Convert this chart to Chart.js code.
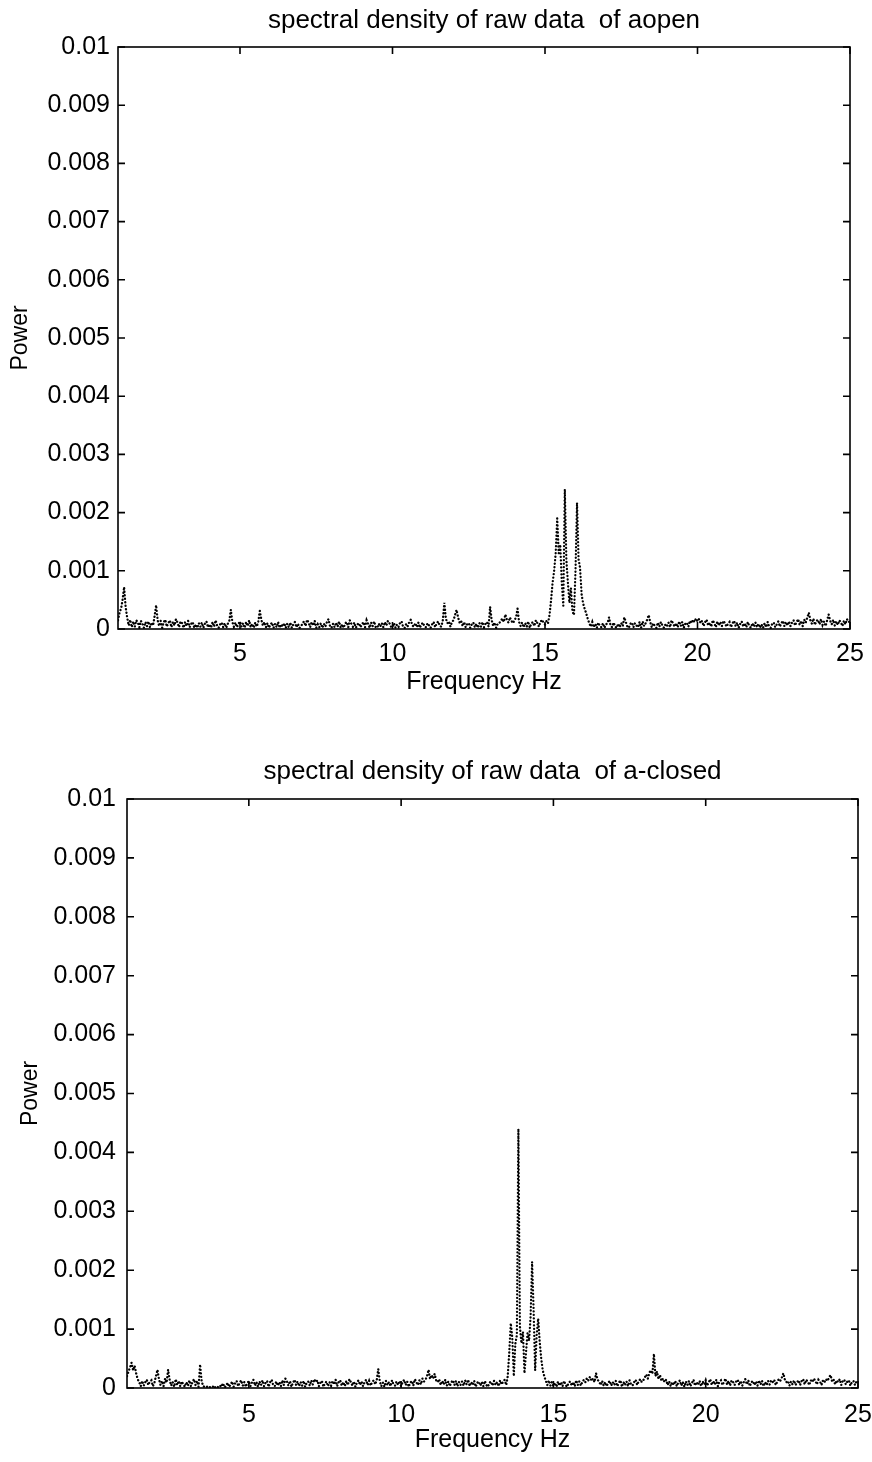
<!DOCTYPE html>
<html>
<head>
<meta charset="utf-8">
<script src="https://cdn.jsdelivr.net/npm/chart.js@4.4.0/dist/chart.umd.min.js"></script>
<style>
  html, body { margin: 0; padding: 0; background: #fff; }
  .panel { position: absolute; left: 0; width: 872px; height: 731px; }
</style>
</head>
<body>
<div class="panel" style="top:0"><canvas id="chartOpen" width="872" height="731"></canvas></div>
<div class="panel" style="top:731px"><canvas id="chartClosed" width="872" height="731"></canvas></div>
<script>
// spectra, one value every 0.05 Hz from 1 to 25 Hz, in units of 1e-4
// (one row per Hz)
const powerOpen = [
  1.5, 2.8, 3.5, 5.0, 7.2, 3.8, 2.0, 0.6, 1.6, 0.3, 1.3, 0.4, 1.5, 1.1, 0.3, 1.4, 0.9, 0.2, 1.2, 0.5,
  1.3, 0.3, 1.1, 0.6, 2.2, 4.1, 1.5, 0.5, 1.4, 0.2, 1.2, 1.6, 0.4, 1.0, 1.5, 0.3, 1.2, 0.6, 1.7, 1.1,
  0.3, 1.3, 1.0, 0.2, 1.2, 0.5, 1.4, 0.3, 0.9, 1.2, 0.2, 0.8, 0.2, 1.0, 0.4, 1.1, 0.2, 0.9, 1.3, 0.3,
  0.8, 0.2, 1.2, 0.4, 1.5, 0.6, 0.2, 0.8, 1.1, 0.3, 1.0, 0.2, 0.9, 1.4, 3.3, 1.2, 0.4, 1.1, 0.3, 0.9,
  1.3, 0.4, 1.0, 0.2, 1.2, 0.5, 1.5, 0.3, 0.9, 0.2, 1.1, 0.4, 1.3, 3.1, 1.6, 0.6, 1.2, 0.3, 1.0, 0.2,
  0.8, 1.1, 0.2, 0.9, 0.3, 1.2, 0.2, 0.8, 0.4, 1.0, 0.2, 0.9, 0.3, 1.1, 0.2, 0.8, 1.2, 0.3, 0.9, 0.2,
  0.4, 1.0, 1.3, 0.5, 1.6, 1.1, 0.3, 1.2, 0.6, 1.4, 0.2, 0.8, 0.3, 1.0, 0.2, 0.9, 0.4, 1.2, 1.7, 0.5,
  0.2, 0.9, 0.3, 1.1, 0.4, 1.3, 0.2, 0.8, 0.2, 1.0, 1.2, 0.3, 1.5, 0.9, 0.4, 1.1, 0.2, 0.8, 1.0, 0.3,
  0.8, 1.2, 0.3, 1.5, 0.9, 0.2, 1.1, 0.5, 1.3, 0.3, 0.2, 0.9, 0.4, 1.0, 0.3, 1.2, 0.6, 1.4, 1.0, 0.4,
  0.3, 1.0, 0.2, 0.8, 0.4, 1.1, 1.3, 0.3, 0.2, 0.9, 0.5, 1.2, 1.6, 0.6, 0.4, 1.0, 0.3, 1.1, 0.2, 0.8,
  1.1, 0.4, 0.3, 1.0, 0.6, 0.2, 0.8, 1.2, 0.3, 1.0, 1.3, 0.5, 0.4, 1.5, 4.5, 1.8, 1.0, 1.3, 0.4, 1.2,
  1.5, 2.4, 3.3, 2.0, 1.1, 1.4, 0.5, 1.2, 0.3, 0.9, 1.0, 0.2, 0.8, 1.1, 0.3, 0.9, 0.2, 1.0, 0.4, 1.2,
  0.3, 0.9, 1.2, 0.4, 3.8, 1.6, 0.5, 1.1, 0.2, 0.9, 1.0, 1.4, 1.8, 1.2, 2.5, 1.6, 1.1, 2.0, 1.4, 1.0,
  1.5, 2.0, 3.5, 1.2, 0.5, 1.1, 0.3, 1.0, 0.4, 1.3, 0.2, 0.9, 1.2, 0.5, 1.5, 1.0, 0.4, 1.2, 1.6, 1.1,
  0.8, 1.4, 1.0, 2.5, 5.0, 8.0, 10.0, 13.0, 19.0, 13.0, 14.5, 8.0, 4.0, 24.0, 12.0, 8.0, 4.5, 7.0, 3.0, 2.4,
  10.0, 21.7, 12.0, 10.5, 6.0, 4.4, 3.5, 2.7, 1.8, 1.0, 0.4, 1.2, 0.3, 0.9, 0.2, 1.1, 0.5, 0.3, 1.0, 0.2,
  0.8, 1.0, 2.0, 0.6, 0.3, 1.1, 0.4, 0.2, 0.9, 0.3, 1.0, 0.5, 2.0, 1.2, 0.4, 0.2, 0.9, 1.1, 0.3, 1.0,
  0.6, 0.3, 1.2, 0.2, 1.3, 0.5, 1.0, 1.6, 2.4, 1.2, 0.3, 1.0, 0.5, 0.2, 1.1, 0.4, 1.2, 0.6, 0.2, 0.8,
  0.5, 1.1, 0.3, 1.5, 0.9, 0.4, 1.0, 0.3, 1.3, 0.5, 1.2, 0.2, 0.9, 1.1, 0.4, 1.4, 1.0, 1.6, 1.2, 1.8,
  1.3, 1.7, 1.0, 1.4, 0.5, 1.2, 1.6, 0.6, 1.1, 0.4, 1.5, 1.0, 0.3, 1.3, 0.6, 1.2, 0.5, 1.4, 1.0, 0.4,
  0.9, 1.2, 0.3, 1.0, 1.4, 0.5, 1.1, 0.2, 0.9, 1.3, 0.4, 1.0, 0.3, 1.2, 0.5, 0.2, 1.0, 0.4, 1.1, 0.3,
  0.9, 0.2, 0.8, 0.2, 1.0, 0.3, 1.2, 0.4, 0.2, 0.9, 1.1, 0.3, 0.8, 1.3, 0.4, 1.0, 1.4, 0.5, 1.2, 0.6,
  1.3, 0.5, 1.1, 1.5, 0.6, 1.2, 1.7, 0.7, 1.4, 0.5, 1.6, 1.1, 2.0, 2.8, 1.5, 0.9, 1.8, 0.7, 1.4, 1.6,
  0.8, 1.7, 0.7, 1.3, 0.5, 1.5, 2.5, 1.4, 0.8, 1.6, 0.6, 1.3, 0.7, 1.5, 1.2, 0.5, 1.4, 0.8, 1.7, 1.2,
  1.3
]
const powerClosed = [
  2.0, 2.8, 3.5, 4.3, 3.0, 3.8, 2.5, 1.5, 1.0, 0.3, 1.2, 0.4, 1.0, 1.4, 0.5, 1.1, 1.3, 0.3, 0.9, 2.0,
  3.1, 1.5, 0.5, 1.2, 0.3, 1.6, 0.9, 3.1, 1.4, 0.4, 1.0, 0.2, 1.5, 0.5, 1.2, 0.3, 1.1, 0.6, 0.2, 1.0,
  0.4, 1.3, 0.3, 1.0, 1.5, 0.5, 1.2, 0.2, 4.0, 1.2, 0.3, 0.2, 0.1, 0.3, 0.1, 0.2, 0.1, 0.4, 0.1, 0.3,
  0.1, 0.4, 0.2, 0.8, 0.1, 0.3, 0.9, 0.2, 0.5, 1.1, 0.2, 0.8, 1.2, 0.3, 0.9, 1.3, 0.4, 1.0, 0.2, 0.8,
  1.2, 0.3, 0.9, 1.4, 0.4, 1.0, 0.2, 1.1, 0.5, 1.3, 0.3, 0.9, 1.2, 0.2, 1.0, 1.4, 0.5, 0.3, 1.1, 0.4,
  1.0, 0.3, 1.3, 0.5, 1.6, 1.1, 0.4, 1.2, 0.2, 0.9, 1.4, 0.5, 1.1, 0.3, 1.0, 0.4, 1.2, 0.2, 0.9, 1.1,
  0.4, 1.3, 0.6, 1.5, 1.0, 1.3, 0.3, 0.9, 1.2, 0.2, 0.8, 1.1, 0.3, 1.0, 0.4, 1.2, 0.6, 1.4, 0.3, 1.0,
  1.3, 0.4, 1.0, 0.3, 1.2, 0.5, 1.5, 1.0, 0.4, 1.1, 0.2, 0.9, 1.3, 0.5, 1.1, 0.3, 1.0, 1.4, 0.5, 1.2,
  0.4, 1.0, 1.3, 0.6, 1.4, 3.2, 1.1, 0.3, 0.9, 0.2, 1.2, 0.5, 1.0, 0.3, 1.3, 0.6, 0.4, 1.1, 0.5, 1.2,
  0.3, 1.0, 1.4, 0.5, 1.1, 0.2, 0.9, 1.2, 0.4, 1.5, 1.0, 0.5, 1.3, 0.6, 1.6, 1.1, 1.4, 2.0, 3.1, 1.5,
  2.2, 1.6, 2.4, 1.3, 1.0, 1.5, 0.5, 1.2, 0.6, 1.4, 0.4, 1.1, 0.3, 1.0, 1.3, 0.5, 1.2, 0.3, 1.0, 0.5,
  1.1, 0.4, 1.3, 0.6, 1.4, 0.3, 1.0, 0.5, 1.2, 0.2, 0.9, 1.1, 0.4, 1.0, 0.3, 1.2, 0.5, 0.2, 0.9, 1.1,
  0.4, 1.2, 0.5, 1.0, 0.3, 1.3, 0.6, 1.1, 1.4, 0.5, 2.0, 6.0, 11.0, 8.5, 2.0, 7.5, 9.0, 44.0, 10.4, 7.6,
  9.5, 2.5, 6.0, 9.3, 8.0, 12.0, 21.4, 13.2, 3.0, 9.0, 11.8, 7.8, 5.0, 3.0, 2.0, 1.2, 0.5, 1.3, 0.4, 1.0,
  0.3, 0.9, 0.2, 1.1, 0.4, 1.0, 0.3, 1.2, 0.5, 0.2, 0.9, 1.1, 0.4, 1.0, 0.3, 1.3, 0.5, 1.1, 0.4, 1.0,
  1.4, 1.0, 1.7, 1.3, 1.9, 1.2, 1.6, 1.0, 2.5, 1.4, 1.1, 0.5, 1.2, 0.4, 1.0, 0.3, 0.9, 1.2, 0.4, 1.0,
  0.5, 1.2, 0.3, 0.9, 1.3, 0.2, 1.0, 0.5, 1.1, 0.3, 1.3, 0.6, 0.4, 1.0, 1.4, 0.5, 1.1, 1.5, 1.0, 1.3,
  1.8, 2.3, 1.6, 2.6, 3.0, 2.4, 5.8, 2.0, 2.8, 1.5, 2.2, 1.2, 1.6, 1.0, 1.4, 0.5, 1.1, 0.3, 1.0, 0.5,
  1.2, 0.3, 0.9, 1.3, 0.4, 1.0, 0.2, 1.1, 0.5, 1.2, 0.3, 0.9, 1.4, 0.4, 1.0, 0.5, 1.2, 0.3, 1.1, 0.6,
  1.3, 0.4, 1.0, 1.5, 0.5, 1.2, 0.6, 1.4, 0.3, 1.1, 1.3, 0.5, 1.0, 1.6, 0.6, 1.2, 0.4, 1.3, 1.0, 0.5,
  1.1, 1.4, 0.5, 1.2, 0.4, 1.0, 1.5, 0.6, 1.3, 0.3, 1.0, 1.2, 0.5, 1.1, 0.4, 1.3, 0.6, 1.2, 0.3, 1.0,
  0.5, 1.2, 0.6, 1.3, 1.0, 1.4, 0.5, 1.1, 1.5, 1.2, 1.8, 2.5, 1.4, 1.0, 1.2, 0.4, 1.1, 0.6, 1.3, 0.5,
  1.0, 1.3, 0.5, 1.2, 1.5, 0.6, 1.4, 1.1, 0.5, 1.3, 1.0, 1.6, 1.2, 0.6, 1.4, 1.1, 0.5, 1.3, 1.0, 1.5,
  1.2, 1.8, 2.2, 1.1, 1.4, 0.6, 1.3, 1.0, 1.5, 0.5, 1.2, 1.4, 0.6, 1.1, 1.3, 0.4, 1.0, 1.2, 0.5, 1.1,
  0.9
]
// frequency bins (Hz): 1.00, 1.05, ... 25.00
const freqHz = powerOpen.map((_, i) => Math.round(100 + 5 * i) / 100)

const xTicks = [5, 10, 15, 20, 25]
const yTicks = [0, 0.001, 0.002, 0.003, 0.004, 0.005, 0.006, 0.007, 0.008, 0.009, 0.01]
const yTickLabels = ["0", "0.001", "0.002", "0.003", "0.004", "0.005", "0.006", "0.007", "0.008", "0.009", "0.01"]

const fontFamily = "'Liberation Sans', Arial, Helvetica, sans-serif"

// box round the plot with inward ticks on all four sides (matlab look)
const boxTicks = {
  id: "boxTicks",
  afterDraw(chart) {
    const { ctx, chartArea: a, scales: { x, y } } = chart
    ctx.save()
    ctx.strokeStyle = "#000"
    ctx.lineWidth = 1.6
    ctx.strokeRect(a.left, a.top, a.right - a.left, a.bottom - a.top)
    ctx.beginPath()
    x.ticks.forEach((t) => {
      const px = x.getPixelForValue(t.value)
      ctx.moveTo(px, a.bottom); ctx.lineTo(px, a.bottom - 7)
      ctx.moveTo(px, a.top); ctx.lineTo(px, a.top + 7)
    })
    y.ticks.forEach((t) => {
      const py = y.getPixelForValue(t.value)
      ctx.moveTo(a.left, py); ctx.lineTo(a.left + 7, py)
      ctx.moveTo(a.right, py); ctx.lineTo(a.right - 7, py)
    })
    ctx.stroke()
    ctx.restore()
  }
}

function createSpectrum(canvas, title, power, lay) {
  const ctx = document.getElementById(canvas).getContext("2d")
  new Chart(ctx, {
    type: "line",
    data: {
      datasets: [
        {
          data: power.map((v, i) => ({ x: freqHz[i], y: v * 1e-4 })),
          borderColor: "#000",
          borderWidth: 2.3,
          borderDash: [0.1, 3.4],
          borderCapStyle: "round",
          pointRadius: 0,
          tension: 0,
          fill: false,
        },
      ],
    },
    options: {
      responsive: false,
      animation: false,
      events: [],
      layout: { padding: { left: 0, right: lay.right, top: 0, bottom: lay.bottom } },
      plugins: {
        legend: { display: false },
        tooltip: { enabled: false },
        title: {
          display: true,
          fullSize: false,
          text: title,
          color: "#000",
          font: { family: fontFamily, size: 26, weight: "normal" },
          padding: { top: lay.titleTop, bottom: lay.titleBottom },
        },
      },
      scales: {
        x: {
          type: "linear",
          min: 1,
          max: 25,
          afterBuildTicks: (s) => { s.ticks = xTicks.map((v) => ({ value: v })) },
          afterFit: (s) => {
            s.height = lay.xHeight
            s.paddingLeft = 0
            s.paddingRight = 0
          },
          grid: { display: false, drawTicks: false },
          border: { display: false },
          ticks: {
            color: "#000",
            padding: lay.xTickPad,
            maxRotation: 0,
            font: { family: fontFamily, size: 25 },
            callback: (v) => String(v),
          },
          title: {
            display: true,
            text: "Frequency Hz",
            color: "#000",
            font: { family: fontFamily, size: 25 },
            padding: { top: 0, bottom: 2 },
          },
        },
        y: {
          min: 0,
          max: 0.01,
          afterBuildTicks: (s) => { s.ticks = yTicks.map((v) => ({ value: v })) },
          afterFit: (s) => {
            s.width = lay.left
            s.paddingTop = 0
            s.paddingBottom = 0
          },
          grid: { display: false, drawTicks: false },
          border: { display: false },
          ticks: {
            color: "#000",
            padding: lay.yTickPad,
            font: { family: fontFamily, size: 25 },
            callback: (v, i) => yTickLabels[i],
          },
          title: {
            display: true,
            text: "Power",
            color: "#000",
            font: { family: fontFamily, size: 23 },
            padding: { top: lay.yTitlePad, bottom: 0 },
          },
        },
      },
    },
    plugins: [boxTicks],
  })
}

createSpectrum("chartOpen", "spectral density of raw data  of aopen", powerOpen, {
  left: 118, right: 22, bottom: 32, xHeight: 70,
  titleTop: 5.4, titleBottom: 10.4, xTickPad: 10, yTickPad: 8, yTitlePad: 7.2,
})
createSpectrum("chartClosed", "spectral density of raw data  of a-closed", powerClosed, {
  left: 127, right: 14, bottom: 5, xHeight: 69,
  titleTop: 25.4, titleBottom: 11.4, xTickPad: 12, yTickPad: 11, yTitlePad: 17.2,
})
</script>
</body>
</html>
